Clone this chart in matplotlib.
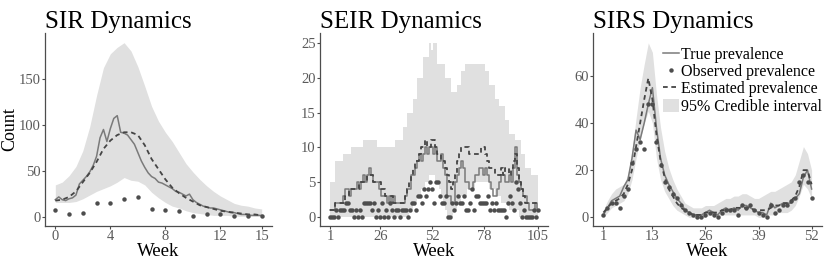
import numpy as np
import matplotlib
matplotlib.use("Agg")
import matplotlib.pyplot as plt
from matplotlib.lines import Line2D
from matplotlib.patches import Patch

# ---------------- SIR data ----------------
sir_true_week = [i * 0.25 for i in range(61)]
sir_true = [19, 22, 19, 18, 20, 21, 24, 36, 40, 44, 49, 56, 66, 86, 95, 82, 96, 107, 110, 92,
            91, 89, 84, 79, 70, 61, 54, 48, 44, 42, 38, 37, 35, 33, 31, 28, 27, 25, 23, 25,
            19, 16, 14, 12, 11, 10, 10, 9, 8, 7, 6, 5, 5, 4, 3, 3, 3, 2, 2, 2, 2]
sir_band_week = [i * 0.5 for i in range(31)]
sir_upper = [35, 38, 45, 55, 72, 98, 132, 162, 177, 184, 189, 180, 163, 142, 120, 104,
             92, 82, 70, 58, 49, 41, 34, 28, 23, 19, 15, 13, 12, 10, 9]
sir_lower = [16, 16, 16, 17, 20, 24, 28, 31, 34, 38, 43, 40, 39, 35, 27, 21,
             16, 12, 10, 7, 5, 4, 3, 2, 2, 2, 1, 1, 1, 1, 1]
sir_est = [18, 19, 22, 28, 38, 48, 60, 74, 83, 89, 92, 92, 89, 78, 63, 52,
           41, 32, 26, 21, 17, 13, 11, 9, 7, 6, 5, 4, 3, 3, 2]
sir_obs_week = list(range(16))
sir_obs = [8, 3, 5, 15, 15, 20, 22, 9, 8, 7, 1, 3, 3, 1, 1, 1]

# ---------------- SEIR data ----------------
seir_week = list(range(1, 106))
seir_upper = ([5] * 3 + [8] * 4 + [9] * 4 + [10] * 6 + [11] * 7 + [10] * 9 + [11] * 4 +
              [13] * 2 + [15] * 3 + [17] * 2 + [20] * 3 + [23] * 3 + [25, 24, 25, 25] +
              [22] * 4 + [20] * 3 + [18] * 3 + [19] * 2 + [21] * 2 + [22] * 10 + [21] * 2 +
              [19] * 3 + [17] * 2 + [16] * 3 + [14] * 2 + [12] * 3 + [11] * 3 + [9] * 2 +
              [7] * 3 + [6] * 4)
seir_lower = ([0] * 40 + [1, 1, 2, 2, 3, 3, 4, 4, 5, 5, 6, 6, 6, 5, 5, 4, 3, 2, 1, 0, 0, 0,
              1, 1, 2, 2, 3, 3, 3, 4, 4, 4, 4, 5, 5, 5, 5, 5, 5, 5, 4, 4, 4, 3, 3, 3, 2, 2,
              2, 2, 1, 1, 1, 1, 1] + [0] * 10)
seir_true = [1, 1, 1, 2, 2, 2, 2, 3, 4, 4, 3, 4, 4, 4, 5, 4, 5, 6, 5, 6, 7, 6, 5, 5, 5, 4,
             3, 3, 3, 2, 3, 2, 3, 2, 2, 2, 2, 2, 3, 4, 4, 6, 6, 7, 8, 9, 8, 9, 10, 9, 10, 10,
             9, 10, 8, 8, 9, 7, 6, 3, 3, 2, 2, 5, 6, 7, 8, 7, 5, 5, 4, 4, 5, 6, 6, 7, 7, 6,
             7, 6, 5, 4, 3, 3, 4, 5, 6, 6, 5, 5, 6, 5, 7, 10, 6, 5, 4, 3, 3, 2, 1, 1, 1, 2, 1]
seir_est = [1, 1, 1, 2, 2, 2, 2, 2, 3, 3, 4, 4, 4, 4, 4, 5, 5, 5, 5, 6, 6, 6, 5, 5, 5, 5,
            4, 4, 3, 3, 3, 3, 2, 2, 2, 2, 2, 2, 3, 4, 5, 6, 7, 8, 8, 9, 10, 10, 11, 10, 10, 11,
            11, 10, 9, 9, 8, 8, 7, 6, 5, 4, 5, 6, 8, 9, 10, 10, 10, 10, 9, 9, 9, 9, 9, 9, 10, 10,
            9, 8, 7, 7, 7, 6, 6, 6, 7, 6, 7, 7, 6, 7, 8, 9, 7, 5, 4, 3, 2, 2, 2, 2, 2, 2, 2]
seir_obs = [0, 0, 0, 1, 0, 1, 1, 1, 2, 2, 1, 1, 0, 1, 0, 1, 0, 2, 2, 2, 2, 1, 2, 0, 1, 0,
            2, 0, 1, 0, 2, 1, 0, 1, 1, 0, 1, 1, 1, 0, 1, 2, 2, 1, 3, 3, 2, 4, 3, 4, 5, 4,
            2, 5, 5, 3, 2, 2, 3, 0, 0, 2, 1, 2, 3, 2, 2, 3, 1, 1, 2, 4, 1, 3, 3, 2, 2, 2,
            2, 3, 1, 2, 1, 2, 1, 1, 1, 1, 0, 2, 3, 2, 1, 5, 4, 2, 0, 1, 0, 0, 0, 0, 1, 0, 1]

# ---------------- SIRS data ----------------
sirs_week = list(range(1, 53))
sirs_true = [1, 4, 7, 8, 9, 13, 16, 25, 37, 33, 40, 48, 55, 38, 25, 18, 14, 11, 8, 6, 3, 2, 1, 1,
             1, 2, 3, 2, 1, 3, 4, 3, 4, 3, 5, 5, 4, 3, 2, 2, 1, 6, 4, 5, 6, 6, 6, 8, 10, 17, 20, 12]
sirs_est = [2, 4, 6, 7, 8, 10, 14, 20, 30, 40, 50, 59, 50, 35, 24, 17, 12, 9, 6, 4, 3, 2, 1, 1,
            1, 2, 2, 2, 2, 3, 3, 3, 4, 4, 4, 4, 4, 3, 3, 3, 3, 4, 5, 5, 6, 6, 7, 9, 13, 20, 20, 14]
sirs_upper = [3, 7, 10, 12, 13, 14, 18, 28, 42, 55, 65, 74, 70, 52, 38, 28, 21, 16, 12, 9, 6, 5,
              4, 4, 4, 5, 5, 5, 6, 7, 8, 8, 9, 9, 10, 10, 9, 8, 8, 9, 10, 11, 11, 12, 13, 14, 15,
              18, 24, 30, 27, 20]
sirs_lower = [0, 2, 4, 5, 6, 7, 10, 16, 25, 33, 40, 45, 40, 25, 16, 11, 8, 5, 3, 2, 1, 0, 0, 0,
              0, 0, 1, 1, 0, 1, 1, 1, 1, 1, 1, 1, 1, 1, 0, 0, 1, 1, 1, 2, 2, 2, 3, 5, 9, 14, 12, 8]
sirs_obs = [1, 4, 6, 6, 4, 9, 12, 23, 29, 32, 29, 48, 48, 32, 22, 15, 13, 10, 8, 5, 3, 2, 1, 0,
            0, 1, 2, 1, 0, 2, 3, 3, 3, 1, 5, 4, 5, 3, 2, 1, 0, 5, 2, 3, 5, 5, 7, 8, 15, 18, 15, 8]

titles = ["SIR Dynamics", "SEIR Dynamics", "SIRS Dynamics"]
legend_labels = ["True prevalence", "Observed prevalence", "Estimated prevalence", "95% Credible interval"]

# ---------------- styling ----------------
plt.rcParams['font.family'] = ['Liberation Serif', 'DejaVu Serif']
BAND = '#e0e0e0'
TRUE_C = '#7a7a7a'
EST_C = '#454545'
OBS_C = '#4d4d4d'
AX_C = '#4d4d4d'
TICK_C = '#5a5a5a'
DASH = (2.6, 2.0)

fig = plt.figure(figsize=(8.3, 2.61), dpi=100)
W, H = 830, 261
boxes = [(45, 272), (320, 548), (593, 822)]
axes = []
for (l, r) in boxes:
    ax = fig.add_axes([l / W, (H - 226) / H, (r - l) / W, (226 - 33) / H])
    axes.append(ax)


def style(ax, title, xticks, yticks, xlim, ylim):
    for s in ['top', 'right']:
        ax.spines[s].set_visible(False)
    for s in ['left', 'bottom']:
        ax.spines[s].set_color(AX_C)
        ax.spines[s].set_linewidth(0.9)
    ax.set_xlim(*xlim)
    ax.set_ylim(*ylim)
    ax.set_xticks(xticks)
    ax.set_yticks(yticks)
    ax.tick_params(axis='both', colors=AX_C, length=2.2, width=0.8, labelsize=10.5, pad=0.8,
                   labelcolor=TICK_C)
    ax.set_title(title, loc='left', fontsize=18, pad=3, color='black')
    ax.set_xlabel('Week', fontsize=13.5, labelpad=0, color='black')


# SIR
ax = axes[0]
ax.fill_between(sir_band_week, sir_lower, sir_upper, color=BAND, linewidth=0)
ax.plot(sir_true_week, sir_true, color=TRUE_C, lw=1.1)
ax.plot(sir_band_week, sir_est, color=EST_C, lw=1.3, dashes=DASH)
ax.plot(sir_obs_week, sir_obs, 'o', color=OBS_C, ms=3.2, mew=0)
style(ax, titles[0], [0, 4, 8, 12, 15], [0, 50, 100, 150], (-0.75, 15.75), (-9.5, 199.5))
ax.set_ylabel('Count', fontsize=13, color='black')
ax.yaxis.set_label_coords(-0.1167, 0.5)

# SEIR
ax = axes[1]
ax.fill_between(seir_week, seir_lower, seir_upper, color=BAND, linewidth=0, step='mid')
ax.step(seir_week, seir_true, where='mid', color=TRUE_C, lw=1.1)
ax.step(seir_week, seir_est, where='mid', color=EST_C, lw=1.3, dashes=DASH)
ax.plot(seir_week, seir_obs, 'o', color=OBS_C, ms=3.2, mew=0)
style(ax, titles[1], [1, 26, 52, 78, 105], [0, 5, 10, 15, 20, 25], (-4.2, 110.2), (-1.25, 26.4))

# SIRS
ax = axes[2]
ax.fill_between(sirs_week, sirs_lower, sirs_upper, color=BAND, linewidth=0)
ax.plot(sirs_week, sirs_true, color=TRUE_C, lw=1.1)
ax.plot(sirs_week, sirs_est, color=EST_C, lw=1.3, dashes=DASH)
ax.plot(sirs_week, sirs_obs, 'o', color=OBS_C, ms=3.2, mew=0)
style(ax, titles[2], [1, 13, 26, 39, 52], [0, 20, 40, 60], (-1.55, 54.55), (-3.7, 78.2))

handles = [Line2D([], [], color=TRUE_C, lw=1.1),
           Line2D([], [], color=OBS_C, marker='o', ls='none', ms=3.2, mew=0),
           Line2D([], [], color=EST_C, lw=1.3, dashes=DASH),
           Patch(facecolor=BAND, edgecolor='none')]
ax.legend(handles, legend_labels, loc='upper right', bbox_to_anchor=(1.0, 0.93), frameon=False,
          fontsize=11.5, handlelength=1.0, handleheight=0.9, handletextpad=0.12, labelspacing=0.08,
          borderaxespad=0, borderpad=0)

fig.savefig('out.png', dpi=100)
